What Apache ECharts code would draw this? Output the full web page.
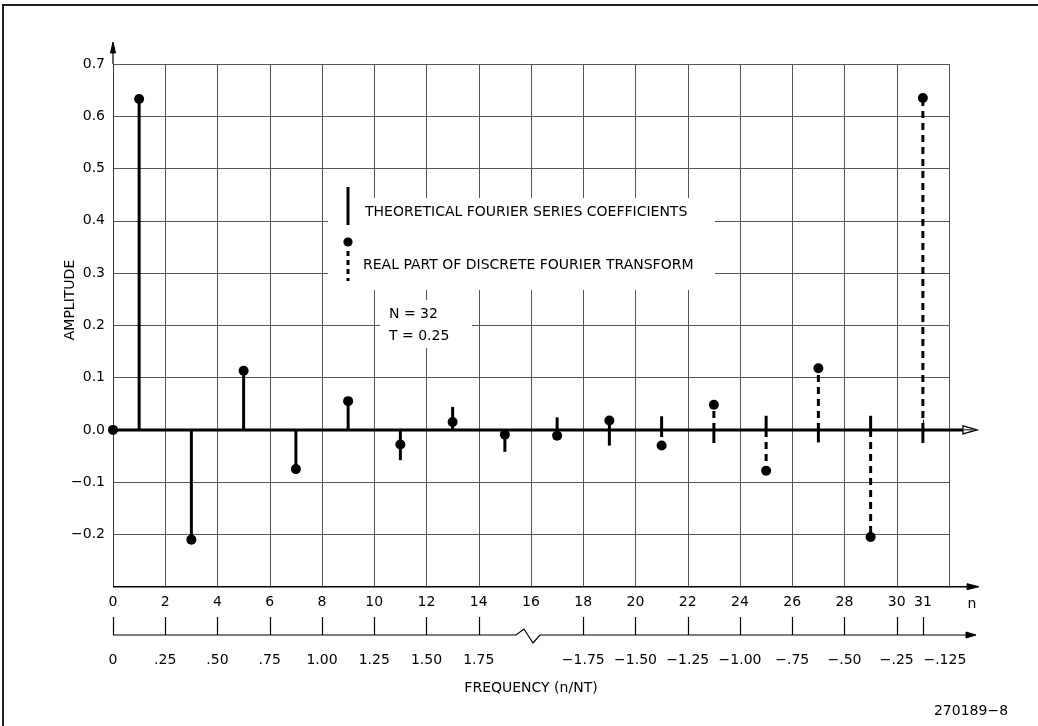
<!DOCTYPE html>
<html><head><meta charset="utf-8">
<script src="https://cdn.jsdelivr.net/npm/echarts/dist/echarts.min.js"></script>
<style>html,body{margin:0;padding:0;background:#fff}#c{width:1038px;height:726px}</style>
</head><body><div id="c"></div>
<script>
// ---------- data ----------
const nCategories = ['0','1','2','3','4','5','6','7','8','9','10','11','12','13','14','15','16',
  '17','18','19','20','21','22','23','24','25','26','27','28','29','30','31','32'];
const nTickLabels = [0,2,4,6,8,10,12,14,16,18,20,22,24,26,28,30,31];
// theoretical Fourier series coefficients (solid stems)
const theoN    = [1,3,5,7,9,11,13,15,17,19,21,23,25,27,29,31];
const theoVals = [0.633,-0.210,0.113,-0.075,0.055,-0.058,0.044,-0.042,0.024,-0.030,0.026,-0.025,0.027,-0.024,0.027,-0.025];
// real part of discrete Fourier transform (dots + dashed stems)
const dftN    = [0,1,3,5,7,9,11,13,15,17,19,21,23,25,27,29,31];
const dftVals = [0,0.633,-0.210,0.113,-0.075,0.055,-0.028,0.015,-0.009,-0.011,0.018,-0.030,0.048,-0.078,0.118,-0.205,0.635];
// frequency (n/NT) axis
const freqTickN = [0,2,4,6,8,10,12,14,18,20,22,24,26,28,30,31];
const freqTickLabels = ['0','.25','.50','.75','1.00','1.25','1.50','1.75','\u22121.75','\u22121.50','\u22121.25','\u22121.00','\u2212.75','\u2212.50','\u2212.25','\u2212.125'];
const yMin = -0.3, yMax = 0.7, yStep = 0.1;

// ---------- chart ----------
const FONT = '"DejaVu Sans", sans-serif';
const chart = echarts.init(document.getElementById('c'), null, {renderer:'canvas'});

function solidStem(params, api){
  const x = api.value(0), v = api.value(1);
  const p0 = api.coord([x, 0]), p1 = api.coord([x, v]);
  return {type:'line', shape:{x1:p0[0], y1:p0[1], x2:p1[0], y2:p1[1]},
    style:{stroke:'#000', lineWidth:3, lineCap:'butt'}};
}
function dashedStem(params, api){
  const x = api.value(0), v = api.value(1);
  // where the solid theoretical stem already covers the DFT stem, nothing extra is visible
  const k = theoN.indexOf(x);
  if (k >= 0) {
    const t = theoVals[k];
    if (t * v > 0 && Math.abs(t) >= Math.abs(v) - 1e-9) return null;
  }
  const p0 = api.coord([x, 0]), p1 = api.coord([x, v]);
  return {type:'line', shape:{x1:p0[0], y1:p0[1], x2:p1[0], y2:p1[1]},
    style:{stroke:'#000', lineWidth:3, lineDash:[7,5], lineCap:'butt'}};
}
function arrow(tipX, tipY, dir, len, half, hollow){
  let pts;
  if (dir === 'right') pts = [[tipX, tipY],[tipX-len, tipY-half],[tipX-len, tipY+half]];
  else pts = [[tipX, tipY],[tipX-half, tipY+len],[tipX+half, tipY+len]];
  return {type:'polygon', shape:{points:pts},
    style: hollow ? {fill:'#fff', stroke:'#000', lineWidth:1.3} : {fill:'#000', stroke:'#000', lineWidth:1}};
}
function mainDecor(params, api){
  const z0 = api.coord([0, 0]), z32 = api.coord([32, 0]);
  const b0 = api.coord([0, yMin]), b32 = api.coord([32, yMin]);
  const yTop = api.coord([0, yMax]);
  return {type:'group', children:[
    {type:'line', shape:{x1:z0[0], y1:z0[1], x2:z32[0]+15, y2:z32[1]}, style:{stroke:'#000', lineWidth:3}},
    arrow(z32[0]+28, z32[1], 'right', 14, 4, true),
    {type:'line', shape:{x1:z32[0]+15, y1:z32[1], x2:z32[0]+24, y2:z32[1]}, style:{stroke:'#000', lineWidth:1}},
    {type:'line', shape:{x1:b0[0], y1:b0[1], x2:b32[0]+22, y2:b32[1]}, style:{stroke:'#000', lineWidth:1.5}},
    arrow(b32[0]+30, b32[1], 'right', 12, 3, false),
    {type:'line', shape:{x1:yTop[0], y1:yTop[1], x2:yTop[0], y2:yTop[1]-12}, style:{stroke:'#000', lineWidth:1.2}},
    arrow(yTop[0], yTop[1]-22, 'up', 11, 2.5, false)
  ]};
}
function freqDecor(params, api){
  const a = api.coord([0, 0]), m = api.coord([16, 0]), e = api.coord([32, 0]);
  return {type:'group', children:[
    {type:'polyline', shape:{points:[[a[0], a[1]],[m[0]-15, m[1]],[m[0]-7, m[1]-6],[m[0]+2, m[1]+8],[m[0]+9, m[1]],[e[0]+20, e[1]]]},
      style:{stroke:'#000', lineWidth:1.2, fill:null}},
    arrow(e[0]+27, e[1], 'right', 10, 3, false)
  ]};
}

const tickInterval = (i) => nTickLabels.indexOf(i) >= 0;
const freqInterval = (i) => freqTickN.indexOf(i) >= 0;

const option = {
  animation:false,
  backgroundColor:'#fff',
  textStyle:{fontFamily:FONT},
  grid:[
    {left:113, top:64, width:836, height:522.7, outerBoundsMode:'none', containLabel:false},
    {left:113, top:626, width:836, height:18, outerBoundsMode:'none', containLabel:false}
  ],
  xAxis:[
    {type:'category', gridIndex:0, data:nCategories, boundaryGap:false, position:'bottom',
      axisLine:{show:false},
      axisTick:{show:true, inside:true, length:10, interval:(i)=> i === 31, lineStyle:{color:'#000', width:1}},
      axisLabel:{interval:tickInterval, margin:9, color:'#000', fontSize:14, fontFamily:FONT},
      splitLine:{show:true, interval:(i)=> i % 2 === 0, lineStyle:{color:'#555', width:1}}},
    {type:'category', gridIndex:1, data:nCategories, boundaryGap:false, position:'bottom',
      axisLine:{show:false},
      axisTick:{show:true, inside:true, length:18, interval:freqInterval, lineStyle:{color:'#000', width:1.2}},
      axisLabel:{interval:freqInterval, margin:9, color:'#000', fontSize:14, fontFamily:FONT,
        formatter:(val)=>{ const k = freqTickN.indexOf(Number(val)); if (k < 0) return '';
          return k === freqTickN.length-1 ? '{s|' + freqTickLabels[k] + '}' : freqTickLabels[k]; },
        rich:{s:{padding:[0,0,0,44], fontSize:14, fontFamily:FONT, color:'#000'}}},
      splitLine:{show:false}}
  ],
  yAxis:[
    {type:'value', gridIndex:0, min:yMin, max:yMax, interval:yStep,
      axisLine:{show:true, lineStyle:{color:'#333', width:1}},
      axisTick:{show:false},
      axisLabel:{margin:8, color:'#000', fontSize:14, fontFamily:FONT,
        formatter:(v)=> v < yMin + 0.05 ? '' : (v < -0.001 ? '\u2212' : '') + Math.abs(v).toFixed(1)},
      splitLine:{show:true, lineStyle:{color:'#555', width:1}}},
    {type:'value', gridIndex:1, min:-1, max:1, show:false}
  ],
  graphic:[
    {type:'rect', z:10, shape:{x:3, y:5, width:1100, height:800}, style:{fill:null, stroke:'#222', lineWidth:2}},
    {type:'rect', z:10, shape:{x:328, y:198, width:387, height:92}, style:{fill:'#fff'}},
    {type:'rect', z:10, shape:{x:380, y:300, width:92, height:48}, style:{fill:'#fff'}},
    {type:'line', z:11, shape:{x1:348, y1:187, x2:348, y2:225}, style:{stroke:'#000', lineWidth:3}},
    {type:'circle', z:11, shape:{cx:348, cy:242, r:4.6}, style:{fill:'#000'}},
    {type:'line', z:11, shape:{x1:348, y1:251, x2:348, y2:281}, style:{stroke:'#000', lineWidth:3, lineDash:[5,4]}},
    {type:'text', z:11, x:365, y:212, style:{text:'THEORETICAL FOURIER SERIES COEFFICIENTS', fill:'#000', font:'14px ' + FONT, align:'left', verticalAlign:'middle', textAlign:'left', textVerticalAlign:'middle'}},
    {type:'text', z:11, x:363, y:265, style:{text:'REAL PART OF DISCRETE FOURIER TRANSFORM', fill:'#000', font:'14px ' + FONT, align:'left', verticalAlign:'middle', textAlign:'left', textVerticalAlign:'middle'}},
    {type:'text', z:11, x:389, y:314, style:{text:'N = 32', fill:'#000', font:'14px ' + FONT, align:'left', verticalAlign:'middle', textAlign:'left', textVerticalAlign:'middle'}},
    {type:'text', z:11, x:389, y:336, style:{text:'T = 0.25', fill:'#000', font:'14px ' + FONT, align:'left', verticalAlign:'middle', textAlign:'left', textVerticalAlign:'middle'}},
    {type:'text', z:11, x:70, y:300, rotation:Math.PI/2, style:{text:'AMPLITUDE', fill:'#000', font:'14px ' + FONT, align:'center', verticalAlign:'middle', textAlign:'center', textVerticalAlign:'middle'}},
    {type:'text', z:11, x:531, y:688, style:{text:'FREQUENCY (n/NT)', fill:'#000', font:'14px ' + FONT, align:'center', verticalAlign:'middle', textAlign:'center', textVerticalAlign:'middle'}},
    {type:'text', z:11, x:972, y:604, style:{text:'n', fill:'#000', font:'14px ' + FONT, align:'center', verticalAlign:'middle', textAlign:'center', textVerticalAlign:'middle'}},
    {type:'text', z:11, x:971, y:711, style:{text:'270189\u22128', fill:'#000', font:'14px ' + FONT, align:'center', verticalAlign:'middle', textAlign:'center', textVerticalAlign:'middle'}}
  ],
  series:[
    {name:'DFT stems', type:'custom', xAxisIndex:0, yAxisIndex:0, z:2, clip:false,
      data: dftN.map((n,i)=>[n, dftVals[i]]), encode:{x:0, y:1}, renderItem: dashedStem},
    {name:'Theoretical', type:'custom', xAxisIndex:0, yAxisIndex:0, z:3, clip:false,
      data: theoN.map((n,i)=>[n, theoVals[i]]), encode:{x:0, y:1}, renderItem: solidStem},
    {name:'axes', type:'custom', xAxisIndex:0, yAxisIndex:0, z:4, clip:false, silent:true,
      data:[[0,0]], encode:{x:0, y:1}, renderItem: mainDecor},
    {name:'DFT', type:'scatter', xAxisIndex:0, yAxisIndex:0, z:5, symbol:'circle', symbolSize:10,
      itemStyle:{color:'#000', opacity:1}, data: dftN.map((n,i)=>[n, dftVals[i]])},
    {name:'freqAxis', type:'custom', xAxisIndex:1, yAxisIndex:1, z:4, clip:false, silent:true,
      data:[[0,0]], encode:{x:0, y:1}, renderItem: freqDecor}
  ]
};
chart.setOption(option);
</script>
</body></html>
